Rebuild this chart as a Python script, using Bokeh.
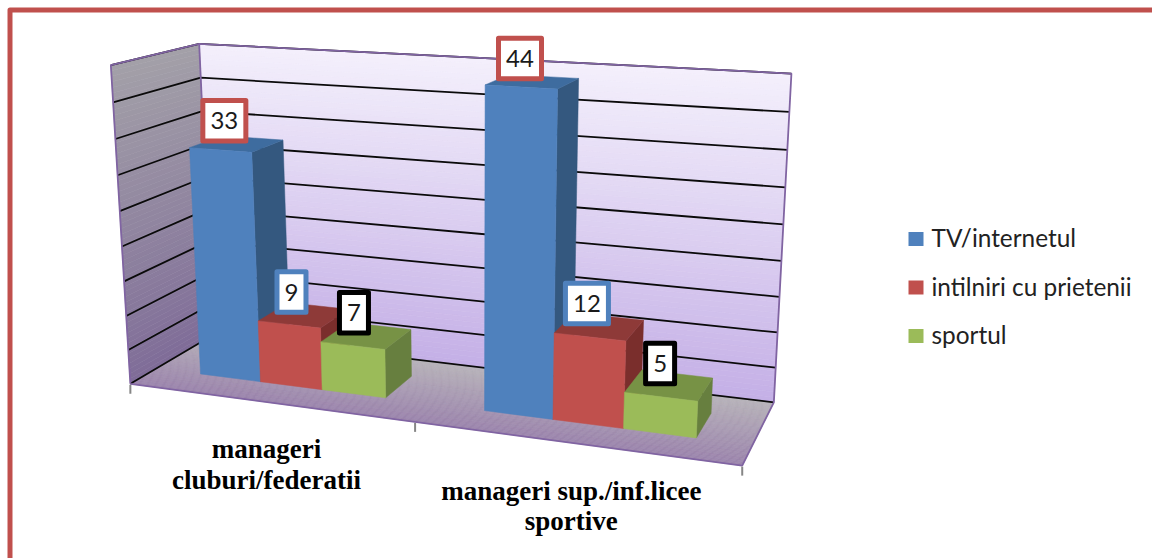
import numpy as np
from bokeh.core.properties import value
from bokeh.embed import file_html
from bokeh.models import Range1d
from bokeh.plotting import figure
from bokeh.resources import INLINE

# Chart content
categories = [["manageri", "cluburi/federatii"], ["manageri sup./inf.licee", "sportive"]]
series_names = ["TV/internetul", "intilniri cu prietenii", "sportul"]
tv_internet = [33, 44]
intilniri = [9, 12]
sportul = [7, 5]
value_ticks = [0, 5, 10, 15, 20, 25, 30, 35, 40, 45]

# Styling
front_colors = ["#4f81bd", "#c0504d", "#9bbb59"]
top_colors = ["#3e6c9f", "#8e3a38", "#779245"]
side_colors = ["#34587f", "#7a2e2c", "#677f3f"]
label_borders = ["#c0504d", "#4f81bd", "#000000"]
WALL_EDGE = "#8064a2"
FRAME = "#c0504d"

W, H = 1152, 558
AXIS_MAX = value_ticks[-1]
GAP_WIDTH = 1.5
DEPTH_FRONT, DEPTH_BACK = 0.3, 0.7

# Perspective camera: box corners (across, depth, height) to canvas positions
box_corners = [
    ((0, 0, 0), (129, 383)), ((1, 0, 0), (742, 465)), ((1, 1, 0), (773, 402)),
    ((0, 1, 0), (213, 335)), ((0, 1, 1), (198, 43)), ((1, 1, 1), (791, 73)),
    ((0, 0, 1), (111, 65)),
]


def solve_camera(pairs):
    rows = []
    for (a, d, h), (px, py) in pairs:
        px, py = px / 1000, py / 1000
        rows.append([a, d, h, 1, 0, 0, 0, 0, -px * a, -px * d, -px * h, -px])
        rows.append([0, 0, 0, 0, a, d, h, 1, -py * a, -py * d, -py * h, -py])
    return np.linalg.svd(np.array(rows))[2][-1].reshape(3, 4)


CAMERA = solve_camera(box_corners)


def project(a, d, v):
    hom = CAMERA @ np.array([a, d, v / AXIS_MAX, 1.0])
    return hom[0] / hom[2] * 1000, hom[1] / hom[2] * 1000


def quad(corners):
    pts = [project(*c) for c in corners]
    return [q[0] for q in pts], [q[1] for q in pts]


def mix(stops, t):
    c0, c1 = stops
    rgb0 = [int(c0[i:i + 2], 16) for i in (1, 3, 5)]
    rgb1 = [int(c1[i:i + 2], 16) for i in (1, 3, 5)]
    return "#%02x%02x%02x" % tuple(round(p + (q - p) * t) for p, q in zip(rgb0, rgb1))


p = figure(width=W, height=H, output_backend="svg", toolbar_location=None,
           x_range=Range1d(0, W), y_range=Range1d(H, 0), min_border=0,
           background_fill_color="white", border_fill_color="white", outline_line_color=None)
p.axis.visible = False
p.grid.visible = False

# Outer frame, running off the right and bottom of the page
p.line([W + 20, 9.5, 9.5], [9.5, 9.5, H + 20], line_color=FRAME, line_width=5, line_join="round")


def gradient(strip, stops, steps=60):
    xs, ys, colors = [], [], []
    for i in range(steps):
        qx, qy = quad(strip(i / steps, (i + 1) / steps))
        xs.append(qx)
        ys.append(qy)
        colors.append(mix(stops, (i + 0.5) / steps))
    p.patches(xs, ys, fill_color=colors, line_color=colors, line_width=0.6)


# Walls and floor, each shaded through its own colour ramp
gradient(lambda s, e: [(0, 1, AXIS_MAX * (1 - s)), (1, 1, AXIS_MAX * (1 - s)),
                       (1, 1, AXIS_MAX * (1 - e)), (0, 1, AXIS_MAX * (1 - e))],
         ("#f4f0fc", "#c4afe6"))
gradient(lambda s, e: [(0, 0, AXIS_MAX * (1 - s)), (0, 1, AXIS_MAX * (1 - s)),
                       (0, 1, AXIS_MAX * (1 - e)), (0, 0, AXIS_MAX * (1 - e))],
         ("#a3a0a8", "#7f6c98"))
gradient(lambda s, e: [(0, 1 - s, 0), (1, 1 - s, 0), (1, 1 - e, 0), (0, 1 - e, 0)],
         ("#b7b3b9", "#9a83ab"))

# Horizontal gridlines along both walls
for v in value_ticks:
    gx, gy = zip(*[project(0, 0, v), project(0, 1, v), project(1, 1, v)])
    p.line(gx, gy, line_color="#0a0a0a", line_width=1.8)

# Wall and floor edges
for path in ([(0, 0, 0), (0, 0, AXIS_MAX), (0, 1, AXIS_MAX), (1, 1, AXIS_MAX), (1, 1, 0), (1, 0, 0), (0, 0, 0)],
             [(0, 1, AXIS_MAX), (0, 1, 0)]):
    ex, ey = zip(*[project(*c) for c in path])
    p.line(ex, ey, line_color=WALL_EDGE, line_width=1.8)

# Category tick marks under the floor's front edge
for a in (0, 0.5, 1):
    tx, ty = project(a, 0, 0)
    p.segment([tx], [ty + 1], [tx], [ty + 10], line_color="#868686", line_width=2)

# Bars, painted left to right so each one overlaps its neighbour's side face
series_values = [tv_internet, intilniri, sportul]
n_cat, n_ser = len(categories), len(series_values)
cat_width = 1 / n_cat
unit = cat_width / (n_ser + GAP_WIDTH)
labels = []
for c in range(n_cat):
    for s in range(n_ser):
        v = series_values[s][c]
        a0 = c * cat_width + unit * (GAP_WIDTH / 2 + s)
        a1 = a0 + unit
        d0, d1 = DEPTH_FRONT, DEPTH_BACK
        faces = [
            ([(a1, d0, 0), (a1, d1, 0), (a1, d1, v), (a1, d0, v)], side_colors[s]),
            ([(a0, d0, v), (a1, d0, v), (a1, d1, v), (a0, d1, v)], top_colors[s]),
            ([(a0, d0, 0), (a1, d0, 0), (a1, d0, v), (a0, d0, v)], front_colors[s]),
        ]
        for corners, color in faces:
            fx, fy = quad(corners)
            p.patch(fx, fy, fill_color=color, line_color=color, line_width=0.5)
        labels.append((v, c, s, project((a0 + a1) / 2, (d0 + d1) / 2, v)))

# Value labels in white boxes, bordered by series; the short last bar's box sits a little right
label_nudge = {(1, 2): (3.5, 1.5)}
for v, c, s, (lx, ly) in labels:
    text = str(v)
    nudge_x, nudge_y = label_nudge.get((c, s), (0, 0))
    cx, cy = lx - 12.5 + nudge_x, ly - 23 + nudge_y
    box_w = 43 if len(text) > 1 else 29
    p.rect([cx], [cy], width=box_w, height=40.5, fill_color="white",
           line_color=label_borders[s], line_width=5, line_join="round")
    p.text([cx], [cy], text=[text], text_font=value("Lato"), text_font_size="24px",
           text_color="#1a1a1a", text_align="center", text_baseline="middle")

# Category labels under the floor
for c, lines in enumerate(categories):
    bx, by = project((c + 0.5) * cat_width, 0, 0)
    for i, line in enumerate(lines):
        p.text([bx - 1.5], [by + 47 + c + i * 30.5], text=[line], text_font=value("Liberation Serif"),
               text_font_size="27px", text_font_style="bold", text_color="#000000",
               text_align="center", text_baseline="middle")

# Legend
legend_x, legend_y, legend_step = 908, 238.5, 48.5
for i, name in enumerate(series_names):
    ly = legend_y + i * legend_step
    p.rect([legend_x + 7.5], [ly], width=15, height=14, fill_color=front_colors[i], line_color=None)
    p.text([legend_x + 23], [ly - 1.5], text=[name], text_font=value("Lato"), text_font_size="24.4px",
           text_color="#222222", text_align="left", text_baseline="middle")

open("out.html", "w").write(file_html(p, INLINE))
